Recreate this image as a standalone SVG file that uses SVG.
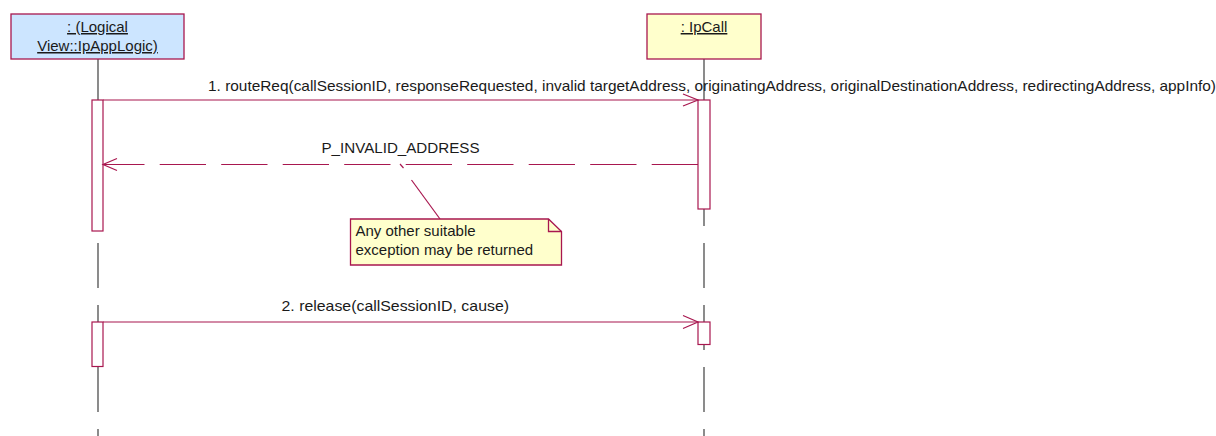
<svg xmlns="http://www.w3.org/2000/svg" width="1216" height="436" viewBox="0 0 1216 436">
<style>
text{font-family:"Liberation Sans",Arial,sans-serif;font-size:15px;fill:#1a1a1a}
.u{text-decoration:underline}
.box{stroke:#a8174f;stroke-width:1.3}
.life{stroke:#404040;stroke-width:1.2;stroke-dasharray:45 17;fill:none}
.act{fill:#fff;stroke:#a8174f;stroke-width:1.2}
.msg{stroke:#a8174f;stroke-width:1.2;fill:none}
</style>
<rect width="1216" height="436" fill="#fff"/>
<g id="lifelines">
<line class="life" x1="98" y1="57" x2="98" y2="436"/>
<line class="life" x1="704" y1="57" x2="704" y2="436"/>
</g>
<g id="node-applogic">
<rect class="box" x="11" y="14" width="173" height="45" fill="#cce5ff"/>
<text class="u" x="97.5" y="32" text-anchor="middle">: (Logical </text>
<text class="u" x="97.5" y="51" text-anchor="middle">View::IpAppLogic)</text>
</g>
<g id="node-ipcall">
<rect class="box" x="647" y="14" width="114" height="45" fill="#ffffcc"/>
<text class="u" x="704" y="32" text-anchor="middle">: IpCall</text>
</g>
<g id="activations">
<rect class="act" x="92" y="100" width="11" height="131"/>
<rect class="act" x="698" y="100" width="12" height="109"/>
<rect class="act" x="92" y="322" width="11" height="44.5"/>
<rect class="act" x="698" y="322" width="12" height="22.5"/>
</g>
<g id="connectors">
<line class="msg" x1="103" y1="100" x2="698" y2="100"/>
<polyline class="msg" points="683,94 698,100 683,106"/>
<line class="msg" x1="698" y1="164.5" x2="103" y2="164.5" stroke-dasharray="46.3 15.2"/>
<polyline class="msg" points="117,158.5 103,164.5 117,170.5"/>
<line class="msg" x1="103" y1="322" x2="698" y2="322"/>
<polyline class="msg" points="683,315.5 698,322 683,328.5"/>
<line class="msg" x1="400" y1="164" x2="403.5" y2="168" stroke-width="1"/>
<line class="msg" x1="411.5" y1="180" x2="440" y2="219" stroke-width="1"/>
</g>
<g id="labels">
<text x="208" y="91" textLength="1008" lengthAdjust="spacingAndGlyphs">1. routeReq(callSessionID, responseRequested, invalid targetAddress, originatingAddress, originalDestinationAddress, redirectingAddress, appInfo)</text>
<text x="321.5" y="152.5" textLength="158" lengthAdjust="spacingAndGlyphs">P_INVALID_ADDRESS</text>
<text x="281.5" y="310.5" textLength="227.5" lengthAdjust="spacingAndGlyphs">2. release(callSessionID, cause)</text>
</g>
<g id="note">
<path class="box" d="M350.5,219 H548.5 L561.5,231.5 V265 H350.5 Z" fill="#ffffcc"/>
<path class="box" d="M548.5,219 V231.5 H561.5" fill="none"/>
<text x="355.5" y="236">Any other suitable</text>
<text x="355.5" y="255">exception may be returned</text>
</g>
</svg>
